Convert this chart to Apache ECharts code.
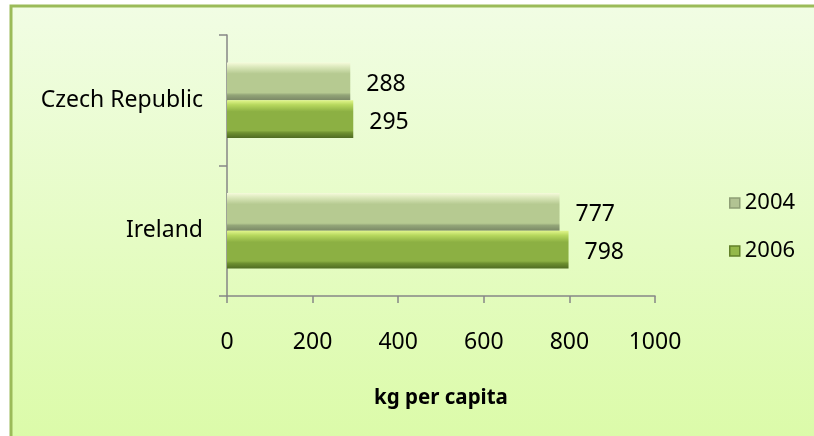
<!doctype html>
<html>
    <head>
        <meta charset="utf-8">
        <title>kg per capita</title>
        <style>
            html, body { margin: 0; padding: 0; background: #fff; }
            #main { width: 814px; height: 436px; }
        </style>
    </head>
    <body>
        <div id="main"></div>
        <script src="https://cdn.jsdelivr.net/npm/echarts@6/dist/echarts.min.js"></script>
        <script>
            var countries = ['Ireland', 'Czech Republic'];
            var years = ['2004', '2006'];
            var values2004 = [777, 288];
            var values2006 = [798, 295];
            var xTicks = [0, 1000, 200];

            var FONT = 'Noto Sans';

            function bevel(top, light, main, dark, edge) {
                return new echarts.graphic.LinearGradient(0, 0, 0, 1, [
                    { offset: 0, color: top },
                    { offset: 0.12, color: light },
                    { offset: 0.3, color: main },
                    { offset: 0.8, color: main },
                    { offset: 0.86, color: dark },
                    { offset: 1, color: edge }
                ]);
            }

            var color2004 = bevel('#f6fbdc', '#dbe8bb', '#b6ca91', '#93a578', '#7a8866');
            var color2006 = bevel('#e2f68c', '#b7d85e', '#8cb043', '#6e9030', '#4f6b22');

            var chart = echarts.init(document.getElementById('main'));

            var valueLabel = {
                show: true,
                position: 'right',
                distance: 16,
                offset: [0, 3],
                fontSize: 23,
                color: '#000'
            };

            chart.setOption({
                animation: false,
                textStyle: { fontFamily: FONT },
                graphic: [{
                    type: 'rect',
                    silent: true,
                    z: -10,
                    shape: { x: 11, y: 6, width: 840, height: 460 },
                    style: {
                        fill: new echarts.graphic.LinearGradient(0, 0, 0, 1, [
                            { offset: 0, color: '#f1fde4' },
                            { offset: 1, color: '#dafba5' }
                        ]),
                        stroke: '#9bbb59',
                        lineWidth: 3
                    }
                }],
                legend: {
                    orient: 'vertical',
                    left: 724,
                    top: 187,
                    itemWidth: 10,
                    itemHeight: 10,
                    itemGap: 26,
                    textStyle: { fontSize: 22, color: '#000', fontFamily: FONT },
                    data: [
                        { name: years[0], icon: 'rect', itemStyle: { color: '#b2c393', borderColor: '#8e9e76', borderWidth: 1.5 } },
                        { name: years[1], icon: 'rect', itemStyle: { color: '#94b84a', borderColor: '#62802a', borderWidth: 1.5 } }
                    ]
                },
                grid: {
                    left: 227,
                    right: 159,
                    top: 35,
                    bottom: 140
                },
                xAxis: {
                    type: 'value',
                    min: xTicks[0],
                    max: xTicks[1],
                    interval: xTicks[2],
                    name: 'kg per capita',
                    nameLocation: 'middle',
                    nameGap: 92,
                    nameTextStyle: { fontSize: 20.5, fontWeight: 'bold', color: '#000', fontFamily: FONT },
                    axisLine: { show: true, lineStyle: { color: '#868686', width: 1.5 } },
                    axisTick: { show: true, length: 7, lineStyle: { color: '#868686', width: 1.5 } },
                    axisLabel: {
                        fontSize: 23,
                        color: '#000',
                        margin: 35,
                        formatter: function (v) { return String(v); }
                    },
                    splitLine: { show: false }
                },
                yAxis: {
                    type: 'category',
                    data: countries,
                    axisLine: { show: true, lineStyle: { color: '#868686', width: 1.5 } },
                    axisTick: { show: true, length: 8, lineStyle: { color: '#868686', width: 1.5 } },
                    axisLabel: { fontSize: 23, color: '#000', margin: 24 }
                },
                series: [{
                    name: years[0],
                    type: 'bar',
                    data: values2004,
                    barGap: '0%',
                    barCategoryGap: '42%',
                    itemStyle: { color: color2004 },
                    label: valueLabel
                }, {
                    name: years[1],
                    type: 'bar',
                    data: values2006,
                    itemStyle: { color: color2006 },
                    label: valueLabel
                }]
            });
        </script>
    </body>
</html>
